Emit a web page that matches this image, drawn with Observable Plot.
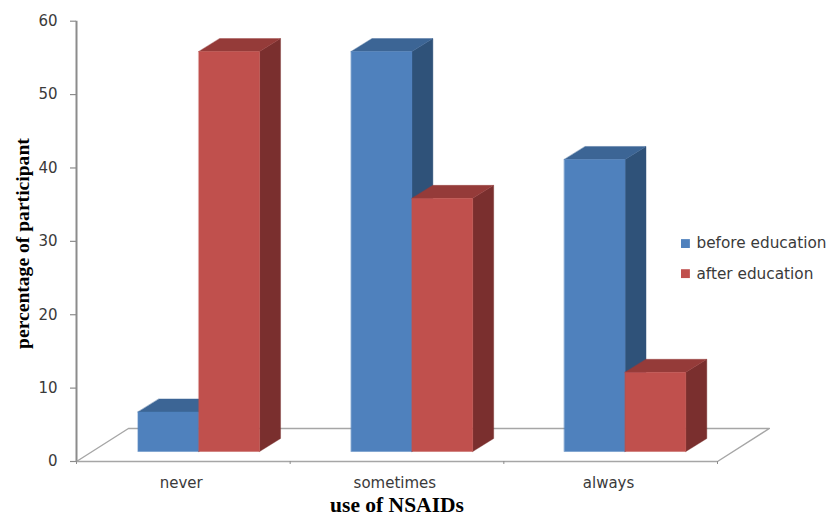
<!DOCTYPE html>
<html>
<head>
<meta charset="utf-8">
<script src="https://cdn.jsdelivr.net/npm/d3@7"></script>
<script src="https://cdn.jsdelivr.net/npm/@observablehq/plot@0.6"></script>
<style>
html,body{margin:0;padding:0;background:#fff;}
svg{display:block;}
</style>
</head>
<body>
<div id="chart"></div>
<script>
const categories = ["never", "sometimes", "always"];
const beforeEducation = [5.4, 54.5, 39.8];
const afterEducation = [54.5, 34.5, 10.8];
const yTicks = [0, 10, 20, 30, 40, 50, 60];
const seriesNames = ["before education", "after education"];

// 3D projection, in scale units (1 x unit = one category, 1 y unit = one percent)
const floorDX = 0.243, floorDY = 4.5;
const barW = 0.2845, barDX = 0.098, barDY = 1.77, barBase = 1.36, barStart = 0.288, barStep = 0.9975;
const colors = [
  {front: "#4F81BD", top: "#3C6595", side: "#2F5279"},
  {front: "#C0504D", top: "#953B39", side: "#7A2F2E"}
];
const axisColor = "#8c8c8c", textColor = "#3a3a3a";
const textFont = "DejaVu Sans", titleFont = "Liberation Serif";

const poly = (pts, fill) => Plot.line(pts.map(([x, y]) => ({x, y})), {
  x: "x", y: "y", fill, stroke: fill, strokeWidth: 0.4, curve: "linear-closed"
});

const marks = [];

// floor
marks.push(Plot.line(
  [[0, 0], [floorDX, floorDY], [3 + floorDX, floorDY], [3, 0]].map(([x, y]) => ({x, y})),
  {x: "x", y: "y", stroke: "#a6a6a6", strokeWidth: 1.4}
));

// bars, painted left to right
categories.forEach((c, i) => {
  [beforeEducation[i], afterEducation[i]].forEach((v, s) => {
    const x0 = i * barStep + barStart + s * barW, x1 = x0 + barW;
    const y0 = barBase, y1 = barBase + v;
    const col = colors[s];
    marks.push(poly([[x1, y0], [x1 + barDX, y0 + barDY], [x1 + barDX, y1 + barDY], [x1, y1]], col.side));
    marks.push(poly([[x0, y1], [x1, y1], [x1 + barDX, y1 + barDY], [x0 + barDX, y1 + barDY]], col.top));
    marks.push(poly([[x0, y0], [x1, y0], [x1, y1], [x0, y1]], col.front));
  });
});

// axes
marks.push(Plot.ruleX([0], {y1: 0, y2: 60, stroke: axisColor, strokeWidth: 2}));
marks.push(Plot.ruleY([0], {x1: 0, x2: 3, stroke: "#a6a6a6", strokeWidth: 1.6}));
marks.push(Plot.axisY({
  ticks: yTicks, tickSize: 6, tickPadding: 13, stroke: axisColor, strokeWidth: 1.2,
  fontSize: 15, fontFamily: textFont, fill: textColor, label: null
}));
marks.push(Plot.axisX({
  ticks: [0, 1, 2, 3], tickSize: 3, tickFormat: () => "", stroke: axisColor, label: null
}));
marks.push(Plot.axisX({
  ticks: categories.map((c, i) => i + 0.49), tickSize: 0, tickPadding: 16,
  tickFormat: (d) => categories[Math.floor(d)],
  fontSize: 15, fontFamily: textFont, fill: textColor, label: null
}));

// axis titles
marks.push(Plot.text(["use of NSAIDs"], {
  x: 1.5, y: 0, dy: 44, text: d => d, fontFamily: titleFont, fontWeight: "bold",
  fontSize: 21.5, fill: "#000", lineAnchor: "middle"
}));
marks.push(Plot.text(["percentage of participant"], {
  x: 0, y: 29.7, dx: -54, rotate: -90, text: d => d, fontFamily: titleFont, fontWeight: "bold",
  fontSize: 19.6, fill: "#000", lineAnchor: "middle"
}));

// legend
const legendRows = seriesNames.map((name, s) => ({name, s, x: 2.85, y: 29.7 - s * 4.1}));
marks.push(Plot.dot(legendRows, {
  x: "x", y: "y", symbol: "square", r: 5, fill: d => colors[d.s].front, stroke: "none"
}));
marks.push(Plot.text(legendRows, {
  x: "x", y: "y", dx: 11, text: "name", textAnchor: "start",
  fontFamily: textFont, fontSize: 15.3, fill: textColor, lineAnchor: "middle"
}));

const chart = Plot.plot({
  width: 828,
  height: 516,
  marginLeft: 76,
  marginRight: 111,
  marginTop: 20.7,
  marginBottom: 55,
  style: {background: "#fff", overflow: "visible"},
  x: {domain: [0, 3]},
  y: {domain: [0, 60]},
  marks
});
document.getElementById("chart").appendChild(chart);
</script>
</body>
</html>
